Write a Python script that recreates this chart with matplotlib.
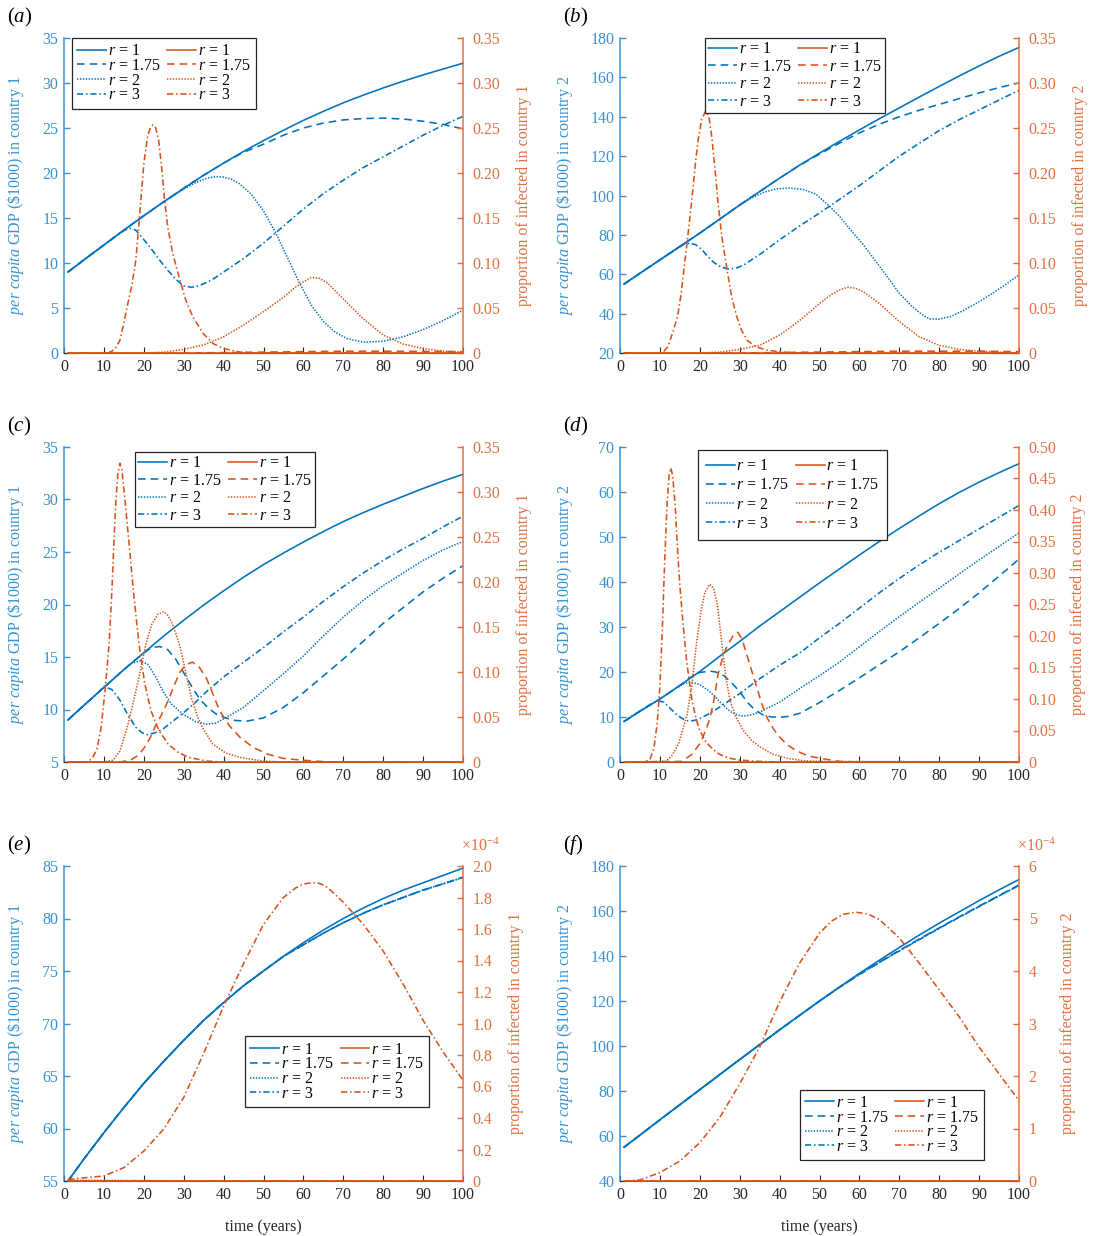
import matplotlib
matplotlib.use('Agg')
import matplotlib.pyplot as plt
from matplotlib.lines import Line2D

plt.rcParams['font.family'] = ['Liberation Serif', 'DejaVu Serif']
plt.rcParams['mathtext.fontset'] = 'custom'
plt.rcParams['mathtext.rm'] = 'Liberation Serif'
plt.rcParams['mathtext.it'] = 'Liberation Serif:italic'
plt.rcParams['lines.scale_dashes'] = False

# ---------------- data ----------------
t_std = [1, 5, 10, 15, 20, 25, 30, 35, 40, 45, 50, 55, 60, 65, 70, 75, 80, 85, 90, 95, 100]
r_labels = ['1', '1.75', '2', '3']

# panel (a): country 1 GDP
a_t_r1 = t_std
a_gdp_r1 = [9.0, 10.35, 12.0, 13.65, 15.25, 16.8, 18.3, 19.75, 21.1, 22.4, 23.6, 24.75, 25.85, 26.85, 27.8, 28.65, 29.45, 30.2, 30.9, 31.55, 32.2]
a_t_r175 = t_std
a_gdp_r175 = [9.0, 10.35, 12.0, 13.65, 15.25, 16.8, 18.3, 19.75, 21.1, 22.3, 23.2, 24.2, 25.0, 25.55, 25.9, 26.05, 26.1, 26.0, 25.75, 25.4, 24.9]
a_t_r2 = [1, 5, 10, 15, 20, 25, 30, 33, 36, 38, 40, 42, 44, 47, 50, 53, 56, 59, 62, 65, 68, 71, 75, 80, 85, 90, 95, 100]
a_gdp_r2 = [9.0, 10.35, 12.0, 13.65, 15.25, 16.8, 18.2, 18.95, 19.45, 19.6, 19.55, 19.3, 18.8, 17.6, 15.8, 13.4, 10.6, 7.8, 5.3, 3.5, 2.3, 1.6, 1.2, 1.3, 1.8, 2.6, 3.6, 4.75]
a_t_r3 = [1, 5, 10, 13, 15, 16.5, 18, 20, 22, 24, 26, 28, 30, 32, 34, 37, 40, 45, 50, 55, 60, 65, 70, 75, 80, 85, 90, 95, 100]
a_gdp_r3 = [9.0, 10.35, 12.0, 13.0, 13.6, 13.85, 13.65, 12.6, 11.5, 10.3, 9.2, 8.2, 7.45, 7.3, 7.5, 8.1, 9.0, 10.5, 12.2, 14.1, 16.0, 17.7, 19.2, 20.6, 21.8, 23.0, 24.2, 25.3, 26.3]
# panel (a): infected country 1
a_ti_r1 = [1, 100]
a_inf_r1 = [0, 0]
a_ti_r175 = [1, 30, 40, 50, 60, 70, 80, 90, 100]
a_inf_r175 = [0, 0, 0.0005, 0.001, 0.0015, 0.002, 0.002, 0.0018, 0.0015]
a_ti_r2 = [1, 20, 25, 30, 35, 40, 45, 50, 55, 58, 60, 62, 64, 66, 70, 75, 80, 85, 90, 95, 100]
a_inf_r2 = [0, 0, 0.001, 0.004, 0.009, 0.018, 0.031, 0.046, 0.062, 0.073, 0.079, 0.084, 0.083, 0.078, 0.060, 0.038, 0.020, 0.010, 0.005, 0.002, 0.001]
a_ti_r3 = [1, 11, 12, 13, 14, 15, 16, 17, 18, 19, 20, 21, 21.7, 22.3, 23, 23.7, 24.5, 25.2, 26, 27.1, 28, 28.8, 30.5, 32.3, 34.9, 37.4, 40, 44, 48, 100]
a_inf_r3 = [0, 0, 0.002, 0.006, 0.014, 0.033, 0.055, 0.075, 0.103, 0.155, 0.21, 0.242, 0.251, 0.2535, 0.25, 0.237, 0.205, 0.17, 0.14, 0.114, 0.098, 0.085, 0.059, 0.040, 0.0215, 0.0104, 0.005, 0.001, 0, 0]

# panel (b): country 2 GDP
b_t_r1 = t_std
b_gdp_r1 = [55, 60.5, 67.3, 74.1, 80.9, 88.0, 95.2, 102.0, 108.8, 115.4, 121.5, 127.5, 133.3, 139.0, 144.5, 150.0, 155.4, 160.7, 165.8, 170.7, 175.2]
b_t_r175 = t_std
b_gdp_r175 = [55, 60.5, 67.3, 74.1, 80.9, 88.0, 95.2, 102.0, 108.8, 115.3, 121.0, 126.6, 131.8, 136.2, 140.0, 143.3, 146.3, 149.2, 152.1, 154.8, 157.2]
b_t_r2 = [1, 5, 10, 15, 20, 25, 30, 33, 36, 39, 42.5, 46, 49, 52, 55, 58, 61, 64, 67, 70, 73, 75.5, 77.5, 80, 83, 86, 90, 95, 100]
b_gdp_r2 = [55, 60.5, 67.3, 74.1, 80.9, 88.0, 95.0, 98.8, 101.6, 103.3, 103.8, 103.0, 100.8, 95.5, 89.5, 82.0, 75.0, 66.8, 58.7, 50.3, 44.0, 39.8, 37.3, 37.2, 38.6, 41.5, 46.0, 52.5, 59.6]
b_t_r3 = [1, 5, 10, 14, 16, 17.5, 19, 20.5, 22, 23.5, 25, 27, 29, 31, 35, 40, 45, 50, 55, 60, 65, 70, 75, 80, 85, 90, 95, 100]
b_gdp_r3 = [55, 60.5, 67.3, 72.6, 75.2, 75.8, 75.0, 72.6, 69.0, 66.0, 64.0, 62.7, 63.0, 64.7, 70.0, 77.5, 84.5, 91.1, 98.0, 105.0, 112.5, 120.0, 126.5, 133.0, 138.5, 143.5, 148.5, 153.4]
# panel (b): infected country 2
b_ti_r1 = [1, 100]
b_inf_r1 = [0, 0]
b_ti_r175 = [1, 30, 40, 50, 60, 70, 80, 90, 100]
b_inf_r175 = [0, 0, 0.0005, 0.001, 0.0015, 0.002, 0.002, 0.002, 0.0015]
b_ti_r2 = [1, 20, 25, 30, 35, 40, 45, 50, 53, 55, 57, 59, 61, 65, 70, 75, 80, 85, 90, 95, 100]
b_inf_r2 = [0, 0, 0.001, 0.004, 0.0085, 0.020, 0.036, 0.055, 0.065, 0.070, 0.073, 0.072, 0.068, 0.055, 0.035, 0.018, 0.0085, 0.004, 0.002, 0.001, 0]
b_ti_r3 = [1, 10, 11, 12, 13, 14.4, 15.3, 16.1, 17, 18, 19, 19.6, 20.5, 21.5, 22.3, 23, 23.8, 24.5, 25.5, 26.7, 28, 29.3, 30.5, 31.9, 34, 37, 41, 45, 100]
b_inf_r3 = [0, 0, 0.002, 0.007, 0.02, 0.040, 0.065, 0.096, 0.13, 0.17, 0.215, 0.237, 0.26, 0.269, 0.262, 0.24, 0.205, 0.17, 0.13, 0.096, 0.062, 0.040, 0.025, 0.014, 0.007, 0.003, 0.001, 0, 0]

# panel (c): country 1 GDP
c_t_r1 = t_std
c_gdp_r1 = [9.0, 10.4, 12.1, 13.8, 15.4, 17.0, 18.5, 19.95, 21.3, 22.6, 23.8, 24.9, 25.95, 26.95, 27.9, 28.75, 29.55, 30.3, 31.05, 31.75, 32.4]
c_t_r175 = [1, 5, 10, 15, 20, 22, 24, 26, 28, 30, 32, 34, 36, 38, 40, 43, 46, 50, 55, 60, 65, 70, 75, 80, 85, 90, 95, 100]
c_gdp_r175 = [9.0, 10.4, 12.1, 13.8, 15.4, 15.9, 16.0, 15.7, 14.8, 13.5, 12.2, 11.0, 10.2, 9.6, 9.25, 8.95, 8.9, 9.2, 10.2, 11.6, 13.2, 14.8, 16.5, 18.2, 19.7, 21.2, 22.5, 23.7]
c_t_r2 = [1, 5, 10, 15, 17, 19, 21, 23, 25, 27, 30, 33, 35.6, 38, 40, 45, 50, 55, 60, 65, 70, 75, 80, 85, 90, 95, 100]
c_gdp_r2 = [9.0, 10.4, 12.1, 13.8, 14.4, 14.65, 14.3, 13.1, 11.6, 10.5, 9.5, 8.85, 8.6, 8.7, 9.1, 10.2, 11.8, 13.4, 15.1, 17.0, 18.8, 20.4, 21.8, 23.0, 24.2, 25.2, 26.0]
c_t_r3 = [1, 5, 8, 10, 12, 14, 16, 18, 19.5, 21, 23, 25, 28, 30, 33, 36, 40, 45, 50, 55, 60, 65, 70, 75, 80, 85, 90, 95, 100]
c_gdp_r3 = [9.0, 10.4, 11.4, 12.2, 11.9, 10.9, 9.5, 8.3, 7.8, 7.6, 7.8, 8.2, 9.1, 9.7, 10.7, 11.8, 13.1, 14.5, 15.9, 17.4, 18.8, 20.3, 21.7, 23.0, 24.2, 25.3, 26.3, 27.4, 28.4]
# panel (c): infected country 1
c_ti_r1 = [1, 100]
c_inf_r1 = [0, 0]
c_ti_r175 = [1, 14, 16.6, 18.5, 20, 21.5, 22.7, 24.5, 26.1, 27.6, 29.1, 30.5, 32.2, 33.8, 35.6, 37.3, 39, 41.5, 44.2, 47.5, 51.1, 55, 59.7, 65, 70, 100]
c_inf_r175 = [0, 0, 0.002, 0.007, 0.015, 0.026, 0.038, 0.053, 0.068, 0.085, 0.1, 0.108, 0.111, 0.106, 0.094, 0.076, 0.057, 0.04, 0.027, 0.016, 0.0086, 0.004, 0.002, 0.0005, 0, 0]
c_ti_r2 = [1, 10, 12.3, 14, 15.8, 17.3, 18.8, 20.5, 22, 23.5, 25, 26, 27, 28, 29.1, 30.5, 32, 33.5, 35, 37.3, 40.5, 44.2, 50, 55, 100]
c_inf_r2 = [0, 0, 0.002, 0.012, 0.038, 0.065, 0.094, 0.131, 0.153, 0.164, 0.167, 0.163, 0.155, 0.143, 0.128, 0.1, 0.07, 0.05, 0.036, 0.020, 0.01, 0.005, 0.001, 0, 0]
c_ti_r3 = [1, 6, 7.2, 8.3, 9.3, 10.3, 11.3, 12.0, 12.5, 13.0, 13.5, 14.0, 14.5, 15.2, 16.3, 17.5, 18.8, 20.2, 21.8, 23.8, 26.1, 28.5, 31.3, 36, 40, 100]
c_inf_r3 = [0, 0, 0.005, 0.015, 0.038, 0.08, 0.131, 0.19, 0.243, 0.29, 0.32, 0.332, 0.325, 0.295, 0.243, 0.185, 0.131, 0.088, 0.057, 0.035, 0.020, 0.011, 0.005, 0.001, 0, 0]

# panel (d): country 2 GDP
d_t_r1 = t_std
d_gdp_r1 = [9.0, 11.3, 14.0, 17.0, 20.1, 23.5, 26.8, 30.2, 33.4, 36.6, 39.8, 42.9, 46.0, 49.0, 51.9, 54.7, 57.4, 59.9, 62.2, 64.3, 66.3]
d_t_r175 = [1, 5, 10, 15, 18, 20, 22.6, 24, 26, 28, 30, 32, 34, 36, 38, 40, 42, 45, 50, 55, 60, 65, 70, 75, 80, 85, 90, 95, 100]
d_gdp_r175 = [9.0, 11.3, 14.0, 17.0, 19.0, 19.9, 20.2, 20.0, 19.2, 17.6, 15.6, 13.2, 11.4, 10.4, 10.0, 9.95, 10.1, 10.8, 13.2, 15.9, 18.7, 21.6, 24.5, 27.6, 30.8, 34.1, 37.6, 41.3, 45.1]
d_t_r2 = [1, 5, 10, 14, 16, 18, 20, 22, 23.5, 25, 26.5, 28, 29.5, 31, 33, 35, 40, 45, 50, 55, 60, 65, 70, 75, 80, 85, 90, 95, 100]
d_gdp_r2 = [9.0, 11.3, 14.0, 16.4, 17.4, 17.7, 17.2, 16.0, 14.8, 13.4, 12.1, 11.0, 10.4, 10.2, 10.5, 11.1, 13.3, 16.3, 19.2, 22.2, 25.6, 29.0, 32.3, 35.5, 38.6, 41.8, 44.9, 47.9, 50.9]
d_t_r3 = [1, 5, 8, 9.5, 11, 12.5, 14, 15.5, 17, 18.5, 20, 22.5, 25, 30, 35, 40, 45, 50, 55, 60, 65, 70, 75, 80, 85, 90, 95, 100]
d_gdp_r3 = [9.0, 11.3, 13.0, 13.65, 13.3, 12.0, 10.7, 9.7, 9.15, 9.2, 9.65, 10.8, 12.2, 15.2, 18.5, 21.5, 24.2, 27.6, 30.8, 34.2, 37.6, 40.8, 43.8, 46.6, 49.2, 51.8, 54.4, 57.0]
# panel (d): infected country 2
d_ti_r1 = [1, 100]
d_inf_r1 = [0, 0]
d_ti_r175 = [1, 15.5, 18, 20, 21.5, 22.6, 23.6, 24.6, 25.7, 26.7, 28.3, 29.5, 30.6, 31.7, 33, 34.3, 35.5, 36.8, 38.5, 40.1, 42, 44.3, 47, 50.1, 55, 60, 100]
d_inf_r175 = [0, 0.001, 0.012, 0.029, 0.05, 0.071, 0.1, 0.14, 0.165, 0.182, 0.2, 0.206, 0.195, 0.172, 0.145, 0.118, 0.093, 0.071, 0.052, 0.039, 0.027, 0.0175, 0.01, 0.006, 0.001, 0, 0]
d_ti_r2 = [1, 11.5, 13, 14.7, 16.8, 18, 19, 20.3, 21.3, 22.5, 23.5, 24.4, 25.4, 26.5, 27.6, 29, 30.9, 33, 35.1, 38, 41.8, 46, 50, 100]
d_inf_r2 = [0, 0.001, 0.01, 0.029, 0.075, 0.12, 0.18, 0.24, 0.27, 0.282, 0.275, 0.25, 0.195, 0.135, 0.097, 0.072, 0.05, 0.034, 0.024, 0.013, 0.006, 0.002, 0.001, 0]
d_ti_r3 = [1, 6, 7.5, 8.5, 9.3, 10.0, 10.6, 11.2, 11.8, 12.3, 12.7, 13.2, 13.8, 14.4, 15.0, 15.8, 16.7, 18.0, 19, 20.0, 21.5, 23.3, 25, 27.5, 30, 35, 40, 100]
d_inf_r3 = [0, 0, 0.004, 0.022, 0.06, 0.12, 0.21, 0.32, 0.41, 0.455, 0.467, 0.455, 0.41, 0.34, 0.28, 0.22, 0.16, 0.10, 0.07, 0.05, 0.032, 0.02, 0.012, 0.006, 0.003, 0.001, 0, 0]

# panel (e): country 1 GDP
e_t_r1 = t_std
e_gdp_r1 = [55.0, 57.1, 59.6, 62.0, 64.3, 66.4, 68.4, 70.3, 72.0, 73.6, 75.0, 76.4, 77.7, 78.9, 80.0, 81.0, 81.9, 82.7, 83.4, 84.1, 84.8]
e_t_r175 = t_std
e_gdp_r175 = [55.0, 57.1, 59.6, 62.0, 64.3, 66.4, 68.4, 70.3, 72.0, 73.6, 75.0, 76.4, 77.5, 78.6, 79.6, 80.5, 81.3, 82.0, 82.7, 83.3, 83.95]
e_t_r2 = t_std
e_gdp_r2 = [55.0, 57.1, 59.6, 62.0, 64.3, 66.4, 68.4, 70.3, 72.0, 73.6, 75.0, 76.4, 77.5, 78.6, 79.6, 80.5, 81.3, 82.0, 82.7, 83.3, 83.9]
e_t_r3 = t_std
e_gdp_r3 = [55.0, 57.1, 59.6, 62.0, 64.3, 66.4, 68.4, 70.3, 72.0, 73.6, 75.0, 76.4, 77.5, 78.6, 79.6, 80.5, 81.3, 82.0, 82.7, 83.3, 83.9]
# panel (e): infected country 1 (units of 1e-4)
e_ti_r1 = [1, 100]
e_inf_r1 = [0, 0]
e_ti_r175 = [1, 100]
e_inf_r175 = [0, 0]
e_ti_r2 = [1, 20, 40, 100]
e_inf_r2 = [0.005, 0.003, 0.001, 0]
e_ti_r3 = [1, 5, 10, 15, 20, 25, 30, 35, 40, 45, 50, 55, 58, 60, 62, 64, 66, 70, 75, 80, 85, 90, 95, 100]
e_inf_r3 = [0.01, 0.02, 0.032, 0.085, 0.19, 0.33, 0.53, 0.81, 1.11, 1.38, 1.63, 1.80, 1.86, 1.885, 1.894, 1.89, 1.865, 1.77, 1.63, 1.46, 1.25, 1.02, 0.82, 0.64]

# panel (f): country 2 GDP
f_t_r1 = t_std
f_gdp_r1 = [55.0, 60.4, 67.2, 73.9, 80.6, 87.3, 94.0, 100.6, 107.2, 113.6, 120.0, 126.2, 132.3, 138.1, 143.8, 149.3, 154.6, 159.6, 164.6, 169.4, 174.0]
f_t_r175 = t_std
f_gdp_r175 = [55.0, 60.4, 67.2, 73.9, 80.6, 87.3, 94.0, 100.6, 107.2, 113.6, 120.0, 126.1, 131.9, 137.3, 142.5, 147.6, 152.5, 157.4, 162.2, 166.9, 171.6]
f_t_r2 = t_std
f_gdp_r2 = [55.0, 60.4, 67.2, 73.9, 80.6, 87.3, 94.0, 100.6, 107.2, 113.6, 120.0, 126.1, 131.8, 137.1, 142.3, 147.3, 152.3, 157.2, 162.0, 166.7, 171.4]
f_t_r3 = t_std
f_gdp_r3 = [55.0, 60.4, 67.2, 73.9, 80.6, 87.3, 94.0, 100.6, 107.2, 113.6, 120.0, 126.1, 131.8, 137.1, 142.3, 147.3, 152.3, 157.2, 162.0, 166.7, 171.4]
# panel (f): infected country 2 (units of 1e-4)
f_ti_r1 = [1, 100]
f_inf_r1 = [0, 0]
f_ti_r175 = [1, 100]
f_inf_r175 = [0, 0]
f_ti_r2 = [1, 100]
f_inf_r2 = [0, 0]
f_ti_r3 = [1, 5, 10, 15, 20, 25, 30, 35, 40, 45, 50, 53, 56, 59, 62, 65, 70, 75, 80, 85, 90, 95, 100]
f_inf_r3 = [0.0, 0.02, 0.16, 0.38, 0.73, 1.21, 1.85, 2.55, 3.41, 4.15, 4.72, 4.95, 5.08, 5.12, 5.09, 4.98, 4.63, 4.15, 3.64, 3.13, 2.55, 2.04, 1.53]

# ---------------- styling ----------------
W, H = 1095, 1236
BLUE = '#0072BD'
ORANGE = '#D95319'
BLUE_AX = '#3593D3'
ORANGE_AX = '#E2703F'
DARK = '#262626'
LW = 1.15
STYLES = [
    dict(linestyle='-'),
    dict(linestyle=(0, (5.5, 3.6))),
    dict(linestyle=(0, (1.0, 1.1))),
    dict(linestyle=(0, (4.5, 2.0, 1.1, 2.0))),
]
FS = 11.5

fig = plt.figure(figsize=(W / 100, H / 100), dpi=100)


def panel(left_px, top_px, letter, gdp, inf, lylim, lyticks, rylim, ryticks, rylabels,
          ylab_l, ylab_r, leg_xy, llab_x, rlab_x, leg_sp, leg_pad, xlabel=False, rmult=False):
    ax = fig.add_axes([left_px / W, 1 - (top_px + 315) / H, 399 / W, 315 / H])
    ax2 = ax.twinx()
    for (tt, yy), st in zip(gdp, STYLES):
        ax.plot(tt, yy, color=BLUE, lw=LW, clip_on=False, **st)
    for (tt, yy), st in zip(inf, STYLES):
        ax2.plot(tt, yy, color=ORANGE, lw=LW, clip_on=False, **st)
    ax.set_xlim(0, 100)
    ax.set_ylim(*lylim)
    ax.set_yticks(lyticks)
    ax2.set_ylim(*rylim)
    ax2.set_yticks(ryticks)
    ax2.set_yticklabels(rylabels)
    ax.set_xticks(range(0, 101, 10))
    for s in ('top', 'right'):
        ax.spines[s].set_visible(False)
    ax.spines['left'].set_color(BLUE_AX)
    ax.spines['left'].set_linewidth(1.1)
    ax.spines['bottom'].set_color(DARK)
    ax.spines['bottom'].set_linewidth(0.8)
    for s in ('top', 'left', 'bottom'):
        ax2.spines[s].set_visible(False)
    ax2.spines['right'].set_color(ORANGE_AX)
    ax2.spines['right'].set_linewidth(1.1)
    ax.tick_params(axis='x', direction='in', length=4, width=0.8, colors=DARK, labelsize=FS, pad=4)
    ax.tick_params(axis='y', direction='in', length=4.5, width=1.0, colors=BLUE_AX, labelsize=FS, pad=4)
    ax2.tick_params(axis='y', direction='in', length=4.5, width=1.0, colors=ORANGE_AX, labelsize=FS, pad=7)
    ax.set_ylabel(ylab_l, color=BLUE_AX, fontsize=FS)
    ax.yaxis.set_label_coords(llab_x, 0.5)
    ax2.set_ylabel(ylab_r, color=ORANGE_AX, fontsize=FS)
    ax2.yaxis.set_label_coords(rlab_x, 0.5)
    if xlabel:
        ax.set_xlabel('time (years)', fontsize=FS, color=DARK)
        ax.xaxis.set_label_coords(0.5, -0.12)
    if rmult:
        ax2.text(1.043, 1.063, '\u00d710$^{\\mathregular{-4}}$', transform=ax2.transAxes,
                 ha='center', va='center', fontsize=FS, color=ORANGE_AX)
    handles = [Line2D([], [], color=BLUE, lw=LW, **st) for st in STYLES] + \
              [Line2D([], [], color=ORANGE, lw=LW, **st) for st in STYLES]
    labels = ['$r$ = ' + r for r in r_labels] * 2
    leg = ax2.legend(handles, labels, ncol=2, loc='upper left', bbox_to_anchor=leg_xy,
                     bbox_transform=ax2.transAxes, frameon=True, fancybox=False,
                     edgecolor=DARK, framealpha=1, fontsize=11.5, handlelength=1.8,
                     handletextpad=0.1, columnspacing=0.45, labelspacing=leg_sp,
                     borderpad=leg_pad, borderaxespad=0)
    leg.get_frame().set_linewidth(0.9)
    fig.text((left_px - 57) / W, 1 - (top_px - 21) / H, '(' + '$\\mathit{' + letter + '}$' + ')',
             fontsize=15, ha='left', va='center', color='black')
    return ax, ax2


ylab1 = '$\\mathit{per\\ capita}$ GDP (\\$1000) in country 1'
ylab2 = '$\\mathit{per\\ capita}$ GDP (\\$1000) in country 2'
yr1 = 'proportion of infected in country 1'
yr2 = 'proportion of infected in country 2'

r_ticks35 = [0, 0.05, 0.10, 0.15, 0.20, 0.25, 0.30, 0.35]
r_lab35 = ['0', '0.05', '0.10', '0.15', '0.20', '0.25', '0.30', '0.35']

panel(64, 38, 'a',
      [(a_t_r1, a_gdp_r1), (a_t_r175, a_gdp_r175), (a_t_r2, a_gdp_r2), (a_t_r3, a_gdp_r3)],
      [(a_ti_r1, a_inf_r1), (a_ti_r175, a_inf_r175), (a_ti_r2, a_inf_r2), (a_ti_r3, a_inf_r3)],
      (0, 35), range(0, 36, 5), (0, 0.35), r_ticks35, r_lab35,
      ylab1, yr1, (0.02, 1.0), -0.095, 1.133, -0.08, 0.33)

panel(620, 38, 'b',
      [(b_t_r1, b_gdp_r1), (b_t_r175, b_gdp_r175), (b_t_r2, b_gdp_r2), (b_t_r3, b_gdp_r3)],
      [(b_ti_r1, b_inf_r1), (b_ti_r175, b_inf_r175), (b_ti_r2, b_inf_r2), (b_ti_r3, b_inf_r3)],
      (20, 180), range(20, 181, 20), (0, 0.35), r_ticks35, r_lab35,
      ylab2, yr2, (0.213, 1.0), -0.113, 1.133, 0.1, 0.2)

panel(64, 447, 'c',
      [(c_t_r1, c_gdp_r1), (c_t_r175, c_gdp_r175), (c_t_r2, c_gdp_r2), (c_t_r3, c_gdp_r3)],
      [(c_ti_r1, c_inf_r1), (c_ti_r175, c_inf_r175), (c_ti_r2, c_inf_r2), (c_ti_r3, c_inf_r3)],
      (5, 35), range(5, 36, 5), (0, 0.35), r_ticks35, r_lab35,
      ylab1, yr1, (0.178, 0.984), -0.095, 1.133, 0.1, 0.2)

panel(620, 447, 'd',
      [(d_t_r1, d_gdp_r1), (d_t_r175, d_gdp_r175), (d_t_r2, d_gdp_r2), (d_t_r3, d_gdp_r3)],
      [(d_ti_r1, d_inf_r1), (d_ti_r175, d_inf_r175), (d_ti_r2, d_inf_r2), (d_ti_r3, d_inf_r3)],
      (0, 70), range(0, 71, 10), (0, 0.5),
      [0, 0.05, 0.10, 0.15, 0.20, 0.25, 0.30, 0.35, 0.40, 0.45, 0.50],
      ['0', '0.05', '0.10', '0.15', '0.20', '0.25', '0.30', '0.35', '0.40', '0.45', '0.50'],
      ylab2, yr2, (0.195, 0.99), -0.113, 1.128, 0.2, 0.5)

panel(64, 866, 'e',
      [(e_t_r1, e_gdp_r1), (e_t_r175, e_gdp_r175), (e_t_r2, e_gdp_r2), (e_t_r3, e_gdp_r3)],
      [(e_ti_r1, e_inf_r1), (e_ti_r175, e_inf_r175), (e_ti_r2, e_inf_r2), (e_ti_r3, e_inf_r3)],
      (55, 85), range(55, 86, 5), (0, 2.0),
      [0, 0.2, 0.4, 0.6, 0.8, 1.0, 1.2, 1.4, 1.6, 1.8, 2.0],
      ['0', '0.2', '0.4', '0.6', '0.8', '1.0', '1.2', '1.4', '1.6', '1.8', '2.0'],
      ylab1, yr1, (0.454, 0.459), -0.096, 1.113, -0.08, 0.33, xlabel=True, rmult=True)

panel(620, 866, 'f',
      [(f_t_r1, f_gdp_r1), (f_t_r175, f_gdp_r175), (f_t_r2, f_gdp_r2), (f_t_r3, f_gdp_r3)],
      [(f_ti_r1, f_inf_r1), (f_ti_r175, f_inf_r175), (f_ti_r2, f_inf_r2), (f_ti_r3, f_inf_r3)],
      (40, 180), range(40, 181, 20), (0, 6), range(0, 7),
      [str(v) for v in range(0, 7)],
      ylab2, yr2, (0.451, 0.290), -0.113, 1.103, -0.08, 0.33, xlabel=True, rmult=True)

fig.savefig('out.png', dpi=100)
